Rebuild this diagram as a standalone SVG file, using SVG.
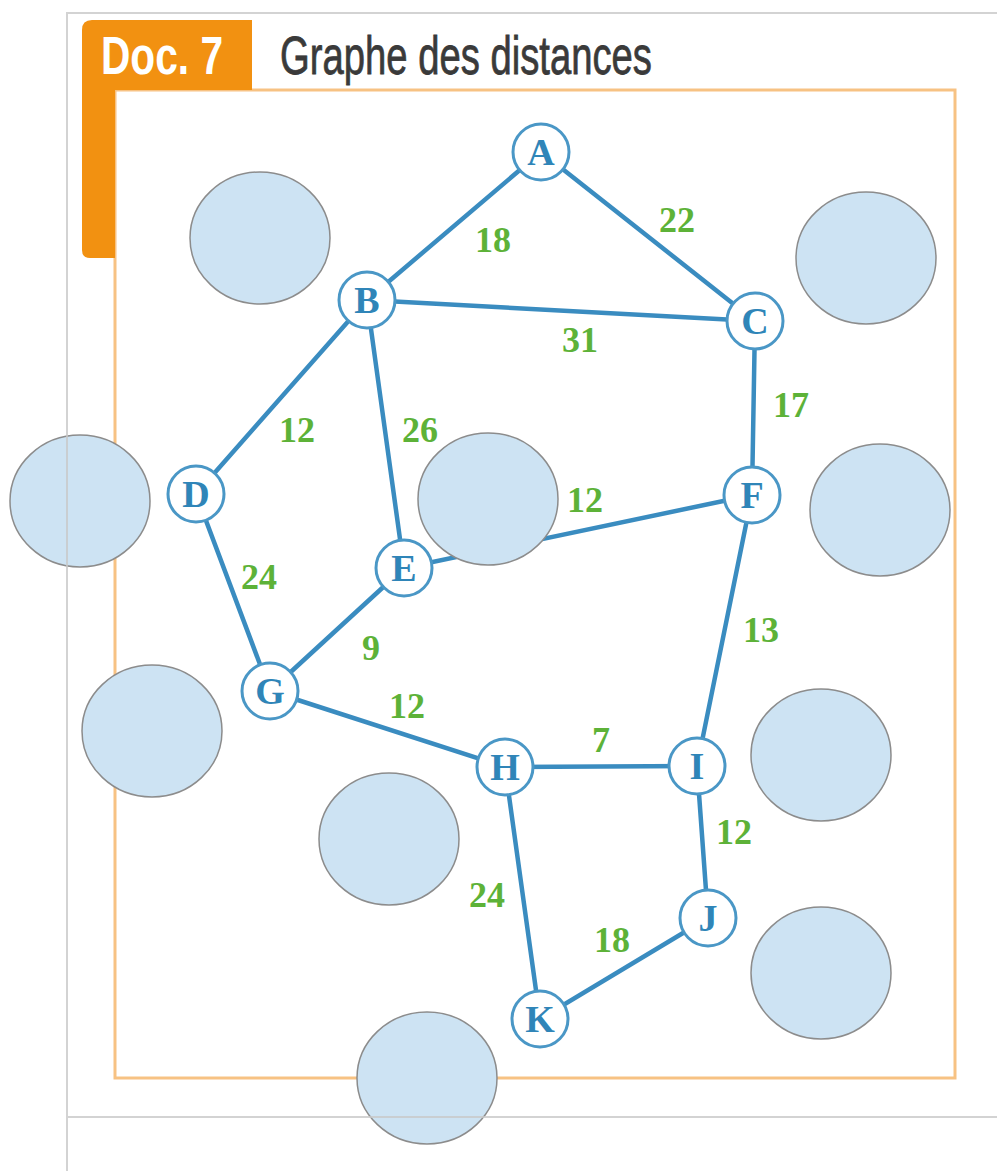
<svg xmlns="http://www.w3.org/2000/svg" width="997" height="1171" viewBox="0 0 997 1171">
<style>
.edge{stroke:#3a8cc0;stroke-width:4.5;fill:none;stroke-linecap:round}
.node circle{fill:#fff;stroke:#4a97c6;stroke-width:3}
.node text{font-family:"Liberation Serif",serif;font-weight:bold;font-size:38px;fill:#2f85b8;text-anchor:middle}
.lbl{font-family:"Liberation Serif",serif;font-weight:bold;font-size:36px;fill:#5db238;text-anchor:middle}
.blob{fill:#cde3f3;stroke:#8c8c8c;stroke-width:1.5}
.gray{stroke:#c8c8c8;stroke-width:2;fill:none}
</style>
<rect width="997" height="1171" fill="#fff"/>
<rect x="115" y="90" width="840" height="988" fill="none" stroke="#f7c283" stroke-width="3"/>
<path d="M82,30 Q82,20 92,20 L252,20 L252,90 L115,90 L115,258 L90,258 Q82,258 82,250 Z" fill="#f29111"/>
<text x="101" y="74" font-family="Liberation Sans, sans-serif" font-weight="bold" font-size="54" fill="#fff" textLength="122" lengthAdjust="spacingAndGlyphs">Doc. 7</text>
<text x="280" y="74" font-family="Liberation Sans, sans-serif" font-size="54" fill="#3a3a3a" stroke="#3a3a3a" stroke-width="0.8" textLength="372" lengthAdjust="spacingAndGlyphs">Graphe des distances</text>
<g id="connectors">
<line class="edge" x1="541" y1="152" x2="367" y2="300"/>
<line class="edge" x1="541" y1="152" x2="755" y2="321"/>
<line class="edge" x1="367" y1="300" x2="755" y2="321"/>
<line class="edge" x1="367" y1="300" x2="196" y2="494"/>
<line class="edge" x1="367" y1="300" x2="404" y2="568"/>
<line class="edge" x1="755" y1="321" x2="752" y2="495"/>
<line class="edge" x1="196" y1="494" x2="270" y2="691"/>
<line class="edge" x1="404" y1="568" x2="752" y2="495"/>
<line class="edge" x1="404" y1="568" x2="270" y2="691"/>
<line class="edge" x1="752" y1="495" x2="697" y2="766"/>
<line class="edge" x1="270" y1="691" x2="505" y2="767"/>
<line class="edge" x1="505" y1="767" x2="697" y2="766"/>
<line class="edge" x1="505" y1="767" x2="540" y2="1019"/>
<line class="edge" x1="697" y1="766" x2="708" y2="918"/>
<line class="edge" x1="708" y1="918" x2="540" y2="1019"/>
</g>
<g id="labels">
<text class="lbl" x="493" y="252">18</text>
<text class="lbl" x="677" y="232">22</text>
<text class="lbl" x="580" y="352">31</text>
<text class="lbl" x="297" y="442">12</text>
<text class="lbl" x="420" y="442">26</text>
<text class="lbl" x="791" y="417">17</text>
<text class="lbl" x="585" y="512">12</text>
<text class="lbl" x="259" y="589">24</text>
<text class="lbl" x="371" y="660">9</text>
<text class="lbl" x="761" y="642">13</text>
<text class="lbl" x="407" y="718">12</text>
<text class="lbl" x="601" y="752">7</text>
<text class="lbl" x="734" y="844">12</text>
<text class="lbl" x="487" y="907">24</text>
<text class="lbl" x="612" y="952">18</text>
</g>
<g id="A" class="node"><circle cx="541" cy="152" r="28"/><text x="541" y="165">A</text></g>
<g id="B" class="node"><circle cx="367" cy="300" r="28"/><text x="367" y="313">B</text></g>
<g id="C" class="node"><circle cx="755" cy="321" r="28"/><text x="755" y="334">C</text></g>
<g id="D" class="node"><circle cx="196" cy="494" r="28"/><text x="196" y="507">D</text></g>
<g id="E" class="node"><circle cx="404" cy="568" r="28"/><text x="404" y="581">E</text></g>
<g id="F" class="node"><circle cx="752" cy="495" r="28"/><text x="752" y="508">F</text></g>
<g id="G" class="node"><circle cx="270" cy="691" r="28"/><text x="270" y="704">G</text></g>
<g id="H" class="node"><circle cx="505" cy="767" r="28"/><text x="505" y="780">H</text></g>
<g id="I" class="node"><circle cx="697" cy="766" r="28"/><text x="697" y="779">I</text></g>
<g id="J" class="node"><circle cx="708" cy="918" r="28"/><text x="708" y="931">J</text></g>
<g id="K" class="node"><circle cx="540" cy="1019" r="28"/><text x="540" y="1032">K</text></g>
<g id="blobs">
<ellipse class="blob" cx="260" cy="238" rx="70" ry="66"/>
<ellipse class="blob" cx="866" cy="258" rx="70" ry="66"/>
<ellipse class="blob" cx="80" cy="501" rx="70" ry="66"/>
<ellipse class="blob" cx="488" cy="499" rx="70" ry="66"/>
<ellipse class="blob" cx="880" cy="510" rx="70" ry="66"/>
<ellipse class="blob" cx="152" cy="731" rx="70" ry="66"/>
<ellipse class="blob" cx="821" cy="755" rx="70" ry="66"/>
<ellipse class="blob" cx="389" cy="839" rx="70" ry="66"/>
<ellipse class="blob" cx="821" cy="973" rx="70" ry="66"/>
<ellipse class="blob" cx="427" cy="1078" rx="70" ry="66"/>
</g>
<path class="gray" d="M997,13 L67,13 L67,1171 M67,1117 L997,1117" stroke-opacity="0.8"/>
</svg>
